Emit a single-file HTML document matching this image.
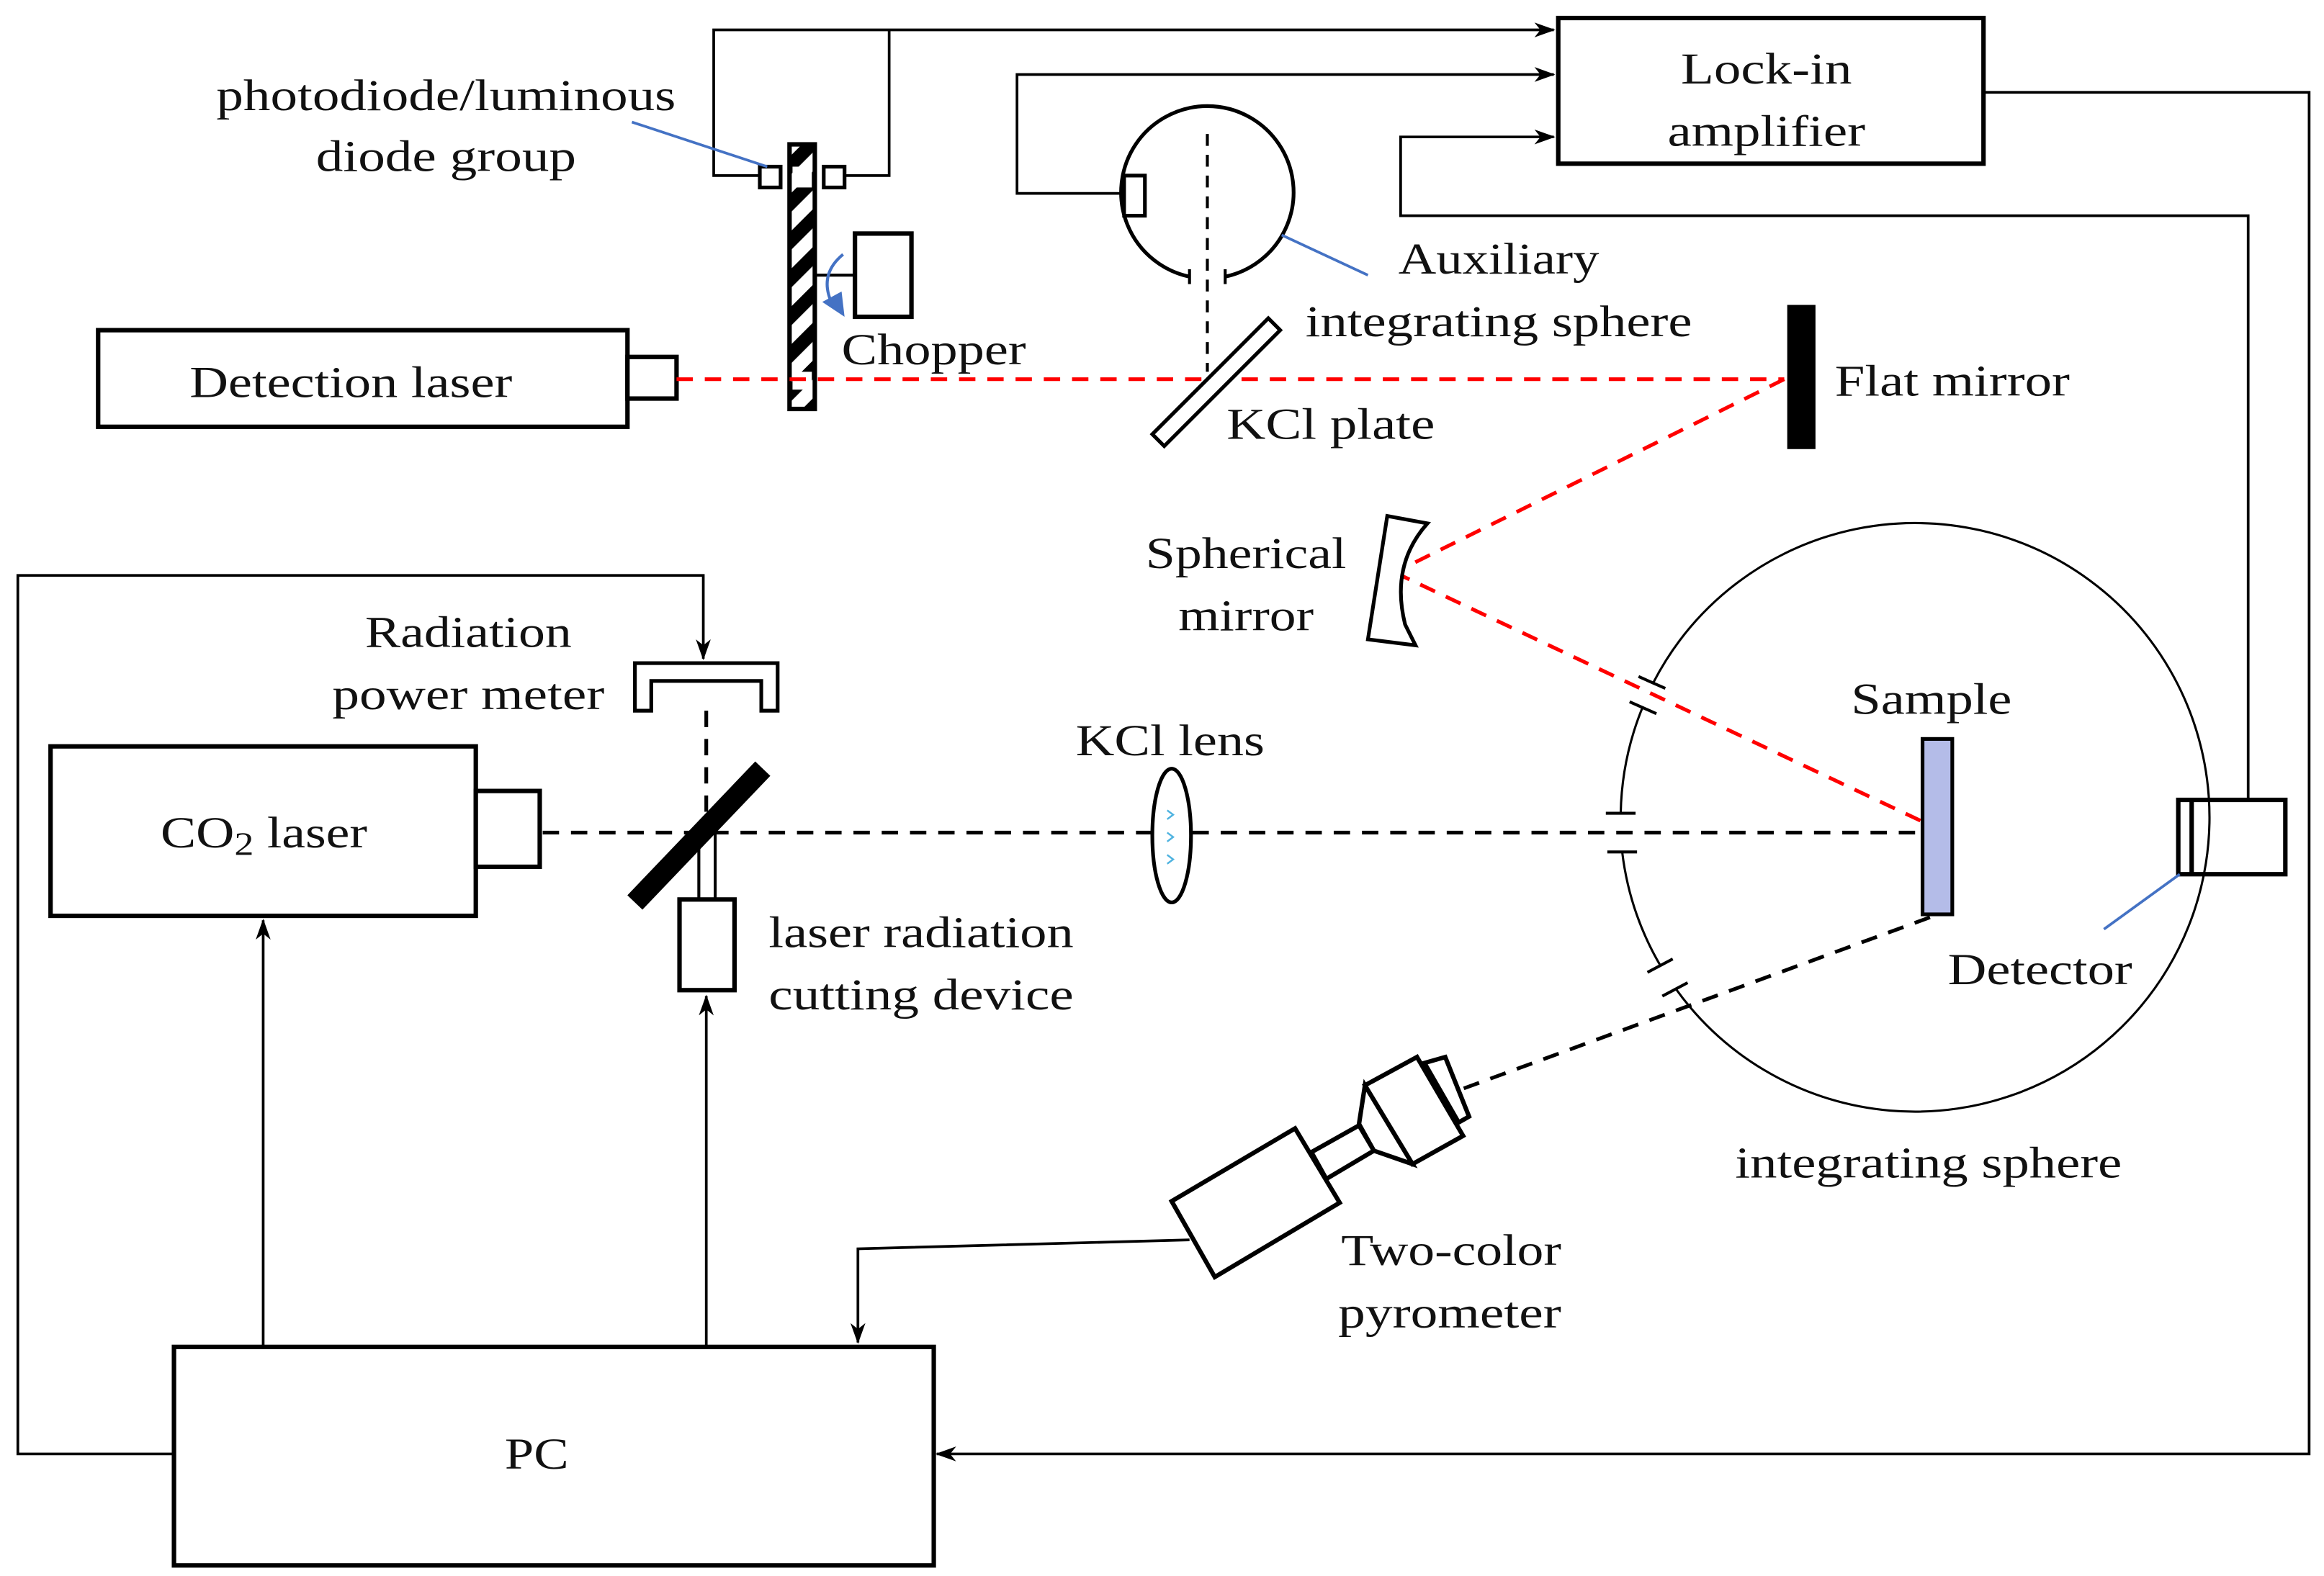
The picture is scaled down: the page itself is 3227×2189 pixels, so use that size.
<!DOCTYPE html>
<html><head><meta charset="utf-8"><style>
html,body{margin:0;padding:0;background:#fff}
svg{display:block}
text{font-family:"Liberation Serif","Times New Roman","DejaVu Serif",serif;font-size:30px;fill:#111}
</style></head><body>
<svg width="3227" height="2189" viewBox="0 0 1563 1060" xmlns="http://www.w3.org/2000/svg">
<defs>
<marker id="ar" markerWidth="14" markerHeight="10" refX="13" refY="5" orient="auto" markerUnits="userSpaceOnUse">
<path d="M0,0 L14,5 L0,10 L4,5 z" fill="#000"/></marker>
<pattern id="hatch" width="18" height="18" patternUnits="userSpaceOnUse" patternTransform="rotate(-45)">
<rect width="18" height="18" fill="#fff"/><rect width="18" height="9" fill="#000"/></pattern>
</defs>
<rect width="1563" height="1060" fill="#fff"/>
<g fill="none" stroke="#000" stroke-width="1.8">
<polyline points="518,118 480,118 480,20 1045,20" marker-end="url(#ar)"/>
<polyline points="568,118 598,118 598,20"/>
<polyline points="756,130 684,130 684,50 1045,50" marker-end="url(#ar)"/>
<polyline points="1512,540 1512,145 942,145 942,92 1045,92" marker-end="url(#ar)"/>
<polyline points="1334,62 1553,62 1553,978 630,978" marker-end="url(#ar)"/>
<polyline points="117,978 12,978 12,387 473,387 473,443" marker-end="url(#ar)"/>
<line x1="177" y1="906" x2="177" y2="619" marker-end="url(#ar)"/>
<line x1="475" y1="906" x2="475" y2="670" marker-end="url(#ar)"/>
<polyline points="800,834 577,840 577,903" marker-end="url(#ar)"/>
</g>
<g fill="#fff" stroke="#000" stroke-width="3">
<rect x="1048" y="12" width="286" height="98"/>
<rect x="66" y="222" width="356" height="65"/>
<rect x="422" y="240" width="33" height="28"/>
<rect x="34" y="502" width="286" height="114"/>
<rect x="320" y="532" width="43" height="51"/>
<rect x="117" y="906" width="511" height="147"/>
<rect x="457" y="605" width="37" height="61"/>
<rect x="575" y="157" width="38" height="56"/>
<rect x="1465" y="538" width="72" height="50"/>
</g>
<line x1="1474" y1="538" x2="1474" y2="588" stroke="#000" stroke-width="3"/>
<line x1="548" y1="185" x2="575" y2="185" stroke="#000" stroke-width="2"/>
<rect x="531" y="97" width="17" height="178" fill="url(#hatch)" stroke="#000" stroke-width="3"/>
<rect x="533" y="112" width="13" height="14" fill="#fff"/>
<rect x="533" y="250" width="13" height="12" fill="#fff"/>
<rect x="511" y="112" width="14" height="14" fill="#fff" stroke="#000" stroke-width="2.5"/>
<rect x="554" y="112" width="14" height="14" fill="#fff" stroke="#000" stroke-width="2.5"/>
<path d="M567,171 Q550,185 560,205" fill="none" stroke="#4472c4" stroke-width="2"/>
<path d="M553,203 L568,213 L566,196 z" fill="#4472c4"/>
<line x1="425" y1="82" x2="516" y2="112" stroke="#4472c4" stroke-width="1.8"/>
<path d="M800,186 A58,58 0 1,1 824,186" fill="none" stroke="#000" stroke-width="2.5"/>
<line x1="800" y1="181" x2="800" y2="191" stroke="#000" stroke-width="2"/>
<line x1="824" y1="181" x2="824" y2="191" stroke="#000" stroke-width="2"/>
<rect x="756" y="118" width="14" height="27" fill="#fff" stroke="#000" stroke-width="2.5"/>
<line x1="812" y1="90" x2="812" y2="250" stroke="#000" stroke-width="2" stroke-dasharray="8,6"/>
<line x1="862" y1="158" x2="920" y2="185" stroke="#4472c4" stroke-width="1.8"/>
<g stroke="#ff0000" stroke-width="2.5" stroke-dasharray="11,8" fill="none">
<line x1="455" y1="255" x2="1200" y2="255"/>
<line x1="1200" y1="255" x2="938" y2="385"/>
<line x1="938" y1="385" x2="1298" y2="555"/>
</g>
<polygon points="775,292 853,214 861,222 783,300" fill="#fff" stroke="#000" stroke-width="2.5"/>
<rect x="1202" y="205" width="19" height="97" fill="#000"/>
<path d="M933,347 L960,352 Q935,380 945,420 L952,434 L920,430 z" fill="#fff" stroke="#000" stroke-width="2.5"/>
<g fill="none" stroke="#000" stroke-width="1.5">
<path d="M1112,459 A198,198 0 1,1 1127,665"/>
<path d="M1105,475 A198,198 0 0,0 1090,547"/>
<path d="M1091,573 A198,198 0 0,0 1117,650"/>
</g>
<g stroke="#000" stroke-width="2">
<line x1="1102" y1="455" x2="1120" y2="463"/>
<line x1="1096" y1="472" x2="1114" y2="480"/>
<line x1="1080" y1="547" x2="1100" y2="547"/>
<line x1="1081" y1="573" x2="1101" y2="573"/>
<line x1="1108" y1="654" x2="1125" y2="645"/>
<line x1="1118" y1="670" x2="1135" y2="661"/>
</g>
<rect x="1293" y="497" width="20" height="118" fill="#b4bce8" stroke="#000" stroke-width="2.5"/>
<line x1="1466" y1="588" x2="1415" y2="625" stroke="#4472c4" stroke-width="1.8"/>
<g stroke="#000" stroke-width="2.5" stroke-dasharray="11,8" fill="none">
<line x1="365" y1="560" x2="1293" y2="560"/>
<line x1="475" y1="478" x2="475" y2="560"/>
<line x1="1298" y1="617" x2="982" y2="733"/>
</g>
<path d="M427,478 L427,446 L523,446 L523,478 L512,478 L512,458 L438,458 L438,478 z" fill="#fff" stroke="#000" stroke-width="2.5"/>
<line x1="470" y1="560" x2="470" y2="605" stroke="#000" stroke-width="2"/>
<line x1="481" y1="560" x2="481" y2="605" stroke="#000" stroke-width="2"/>
<line x1="427" y1="607" x2="513" y2="517" stroke="#000" stroke-width="14"/>
<ellipse cx="788" cy="562" rx="13" ry="45" fill="#fff" stroke="#000" stroke-width="2.5"/>
<path d="M785,545 l4,3 l-4,3 M785,560 l4,3 l-4,3 M785,575 l4,3 l-4,3" stroke="#4fb3e0" stroke-width="1.2" fill="none"/>
<g fill="#fff" stroke="#000" stroke-width="3">
<polygon points="882,775 914,757 924,774 892,793"/>
<polygon points="788,808 871,759 901,809 817,859"/>
<polygon points="914,756 918,730 950,783 924,774"/>
<polygon points="918,730 953,711 984,764 950,783"/>
<polygon points="958,715 972,711 988,751 981,755"/>
</g>
<g text-anchor="middle">
<text x="1188" y="56" textLength="115" lengthAdjust="spacingAndGlyphs">Lock-in</text>
<text x="1188" y="98" textLength="133" lengthAdjust="spacingAndGlyphs">amplifier</text>
<text x="300" y="74" textLength="309" lengthAdjust="spacingAndGlyphs">photodiode/luminous</text>
<text x="300" y="115" textLength="175" lengthAdjust="spacingAndGlyphs">diode group</text>
<text x="236" y="267" textLength="217" lengthAdjust="spacingAndGlyphs">Detection laser</text>
<text x="1008" y="184" textLength="135" lengthAdjust="spacingAndGlyphs">Auxiliary</text>
<text x="1008" y="226" textLength="260" lengthAdjust="spacingAndGlyphs">integrating sphere</text>
<text x="838" y="382" textLength="135" lengthAdjust="spacingAndGlyphs">Spherical</text>
<text x="838" y="424" textLength="91" lengthAdjust="spacingAndGlyphs">mirror</text>
<text x="315" y="435" textLength="139" lengthAdjust="spacingAndGlyphs">Radiation</text>
<text x="315" y="477" textLength="183" lengthAdjust="spacingAndGlyphs">power meter</text>
<text x="787" y="508" textLength="127" lengthAdjust="spacingAndGlyphs">KCl lens</text>
<text x="1299" y="480" textLength="108" lengthAdjust="spacingAndGlyphs">Sample</text>
<text x="1372" y="662" textLength="124" lengthAdjust="spacingAndGlyphs">Detector</text>
<text x="1297" y="792" textLength="260" lengthAdjust="spacingAndGlyphs">integrating sphere</text>
<text x="976" y="851" textLength="148" lengthAdjust="spacingAndGlyphs">Two-color</text>
<text x="975" y="893" textLength="150" lengthAdjust="spacingAndGlyphs">pyrometer</text>
<text x="361" y="988" textLength="43" lengthAdjust="spacingAndGlyphs">PC</text>
</g>
<text x="108" y="570" textLength="139" lengthAdjust="spacingAndGlyphs">CO<tspan font-size="22" dy="5">2</tspan><tspan dy="-5"> laser</tspan></text>
<text x="566" y="245" textLength="124" lengthAdjust="spacingAndGlyphs">Chopper</text>
<text x="825" y="295" textLength="140" lengthAdjust="spacingAndGlyphs">KCl plate</text>
<text x="1234" y="266" textLength="158" lengthAdjust="spacingAndGlyphs">Flat mirror</text>
<text x="517" y="637" textLength="205" lengthAdjust="spacingAndGlyphs">laser radiation</text>
<text x="517" y="679" textLength="205" lengthAdjust="spacingAndGlyphs">cutting device</text>
</svg>
</body></html>
